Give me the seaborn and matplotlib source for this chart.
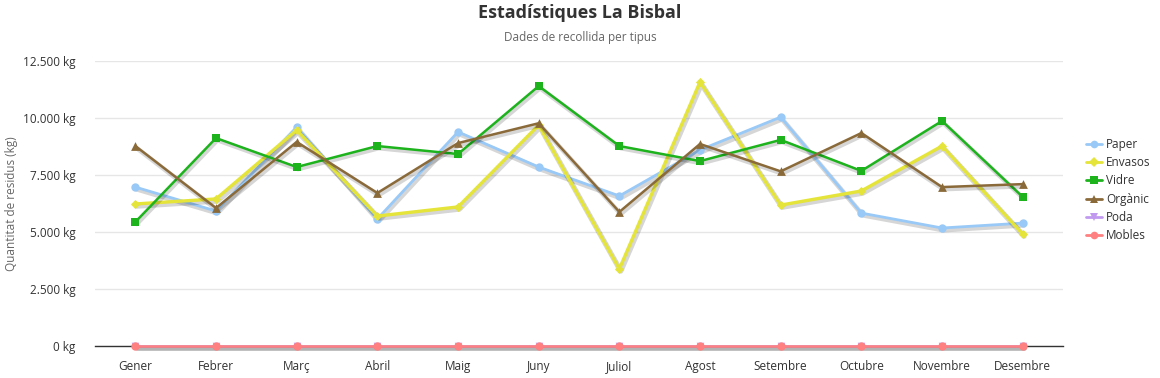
import matplotlib
matplotlib.use("Agg")
import matplotlib.pyplot as plt
import matplotlib.patheffects as pe
from matplotlib.ticker import FuncFormatter
from matplotlib.lines import Line2D
import pandas as pd
import seaborn as sns

mesos = ["Gener", "Febrer", "Març", "Abril", "Maig", "Juny", "Juliol",
         "Agost", "Setembre", "Octubre", "Novembre", "Desembre"]

paper = [6970, 5920, 9600, 5570, 9390, 7850, 6580, 8600, 10040, 5830, 5175, 5390]
envasos = [6230, 6450, 9470, 5700, 6100, 9690, 3380, 11580, 6180, 6800, 8770, 4910]
vidre = [5440, 9120, 7850, 8770, 8420, 11400, 8770, 8110, 9040, 7680, 9870, 6540]
organic = [8770, 6050, 8950, 6710, 8900, 9770, 5880, 8860, 7660, 9340, 6970, 7100]
poda = [0] * 12
mobles = [0] * 12

series = ["Paper", "Envasos", "Vidre", "Orgànic", "Poda", "Mobles"]
valors = [paper, envasos, vidre, organic, poda, mobles]
colors = ["#99c9f7", "#e4e43a", "#1db31d", "#8b6a3a", "#c19af0", "#ff8080"]
markers = ["o", "D", "s", "^", "v", "o"]
msizes = [36, 22, 40, 40, 30, 36]
widths = [2.0, 2.4, 1.8, 1.8, 1.8, 1.8]

sns.set_style("white")
plt.rcParams["font.family"] = ["Open Sans", "DejaVu Sans"]

fig = plt.figure(figsize=(11.6, 3.78), dpi=100)
ax = fig.add_axes([95 / 1160, 1 - 346 / 378, (1063 - 95) / 1160, (346 - 61) / 378])

for i, (nom, vals, col, mk, ms, lw) in enumerate(zip(series, valors, colors, markers, msizes, widths)):
    df = pd.DataFrame({"x": range(len(mesos)), "y": vals})
    shadow = [pe.SimpleLineShadow(offset=(1, -1.5), shadow_color="black", alpha=0.16, linewidth=lw + 1.5),
              pe.Normal()]
    sns.lineplot(data=df, x="x", y="y", ax=ax, color=col, linewidth=lw,
                 path_effects=shadow, clip_on=False, zorder=3 + i)
    sns.scatterplot(data=df, x="x", y="y", ax=ax, color=col, marker=mk, s=ms,
                    linewidth=0, clip_on=False, zorder=3.5 + i)

ax.set_xlim(-0.5, 11.5)
ax.set_ylim(0, 12500)
ax.set_yticks([0, 2500, 5000, 7500, 10000, 12500])
ax.yaxis.set_major_formatter(FuncFormatter(lambda v, p: f"{int(v):,} kg".replace(",", ".")))
ax.set_xticks(range(len(mesos)))
ax.set_xticklabels(mesos)
ax.grid(axis="y", color="#e6e6e6", linewidth=1)
ax.set_axisbelow(True)
for s in ["top", "right", "left"]:
    ax.spines[s].set_visible(False)
ax.spines["bottom"].set_color("#333333")
ax.spines["bottom"].set_linewidth(1)
ax.spines["bottom"].set_zorder(2)
ax.tick_params(axis="both", length=0, labelsize=8.5, colors="#333333")
ax.tick_params(axis="x", pad=10)
ax.tick_params(axis="y", pad=14)
ax.set_xlabel("")
ax.set_ylabel("Quantitat de residus (kg)", fontsize=8.5, color="#666666")
ax.yaxis.set_label_coords(-77 / 968, 0.5)

fig.text(0.5, 1 - 13 / 378, "Estadístiques La Bisbal", ha="center", va="center",
         fontsize=13, fontweight="bold", color="#333333")
fig.text(0.5, 1 - 38 / 378, "Dades de recollida per tipus", ha="center", va="center",
         fontsize=8.5, color="#666666")

handles = [Line2D([], [], color=c, marker=m, markersize=5.5, markeredgewidth=0, linewidth=2.0)
           for c, m in zip(colors, markers)]
fig.legend(handles, series, loc="center left", bbox_to_anchor=(1078 / 1160, 1 - 190 / 378),
           frameon=False, fontsize=8.5, handlelength=1.3, handletextpad=0.4,
           labelspacing=0.45, labelcolor="#333333", borderpad=0.2)

fig.savefig("out.png", dpi=100)
